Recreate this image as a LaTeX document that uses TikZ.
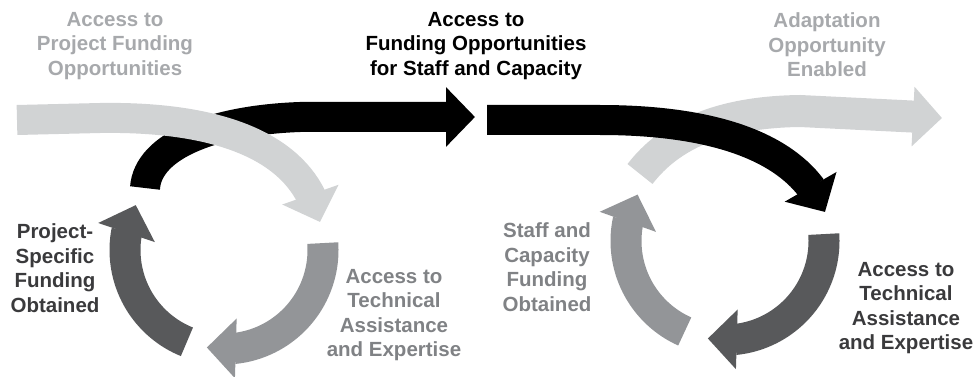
\documentclass[tikz,border=0pt]{standalone}
\usepackage{fontspec}
\setmainfont{Liberation Sans}
\usetikzlibrary{arrows.meta,bending,calc}
\definecolor{lgray}{HTML}{D1D3D4}
\definecolor{mgray}{HTML}{939598}
\definecolor{dgray}{HTML}{58595B}
\definecolor{lgtext}{HTML}{A7A9AC}
\definecolor{mgtext}{HTML}{808285}
\definecolor{dgtext}{HTML}{3A3A3C}
\tikzset{
  band/.style={line width=31pt, -{Triangle[length=29pt,width=58pt]}},
  lbl/.style={align=center, inner sep=0pt, font=\bfseries\fontsize{20.5}{24.5}\selectfont}
}
\begin{document}
\begin{tikzpicture}[x=1pt,y=-1pt]
\useasboundingbox (0,0) rectangle (977,377);
\coordinate (c1) at (224,250);
\coordinate (c2) at (725,241);
% left cycle
\draw[band, dgray] ($(c1)+(112:99)$) arc[start angle=112,end angle=207,radius=99];
\draw[band, mgray] ($(c1)+(-4:99)$) arc[start angle=-4,end angle=100,radius=99];
\draw[band, black, line width=30pt] (145,188) .. controls (148,145) and (215,120) .. (300,117) -- (475,117);
\draw[band, lgray, line width=30pt] (17,120) -- (100,118) .. controls (225,116) and (305,150) .. (320,222);
% right cycle
\draw[band, lgray, line width=32pt] (640,174) .. controls (670,135) and (720,112) .. (800,111) -- (942,118);
\draw[band, black, line width=30pt] (487,120) -- (600,120) .. controls (720,120) and (800,150) .. (825,212);
\draw[band, mgray] ($(c2)+(114:99)$) arc[start angle=114,end angle=208,radius=99];
\draw[band, dgray] ($(c2)+(-4:99)$) arc[start angle=-4,end angle=100,radius=99];
% labels
\node[lbl, text=lgtext] (t1) at (115,46) {Access to\\Project Funding\\Opportunities};
\node[lbl, text=black] (t2) at (476,46) {Access to\\Funding Opportunities\\for Staff and Capacity};
\node[lbl, text=lgtext] (t3) at (827,45) {Adaptation\\Opportunity\\Enabled};
\node[lbl, text=dgtext] (t4) at (55,268) {Project-\\Specific\\Funding\\Obtained};
\node[lbl, text=mgtext] (t5) at (394,315) {Access to\\Technical\\Assistance\\and Expertise};
\node[lbl, text=mgtext] (t6) at (547,267) {Staff and\\Capacity\\Funding\\Obtained};
\node[lbl, text=dgtext] (t7) at (906,308) {Access to\\Technical\\Assistance\\and Expertise};
\end{tikzpicture}
\end{document}
